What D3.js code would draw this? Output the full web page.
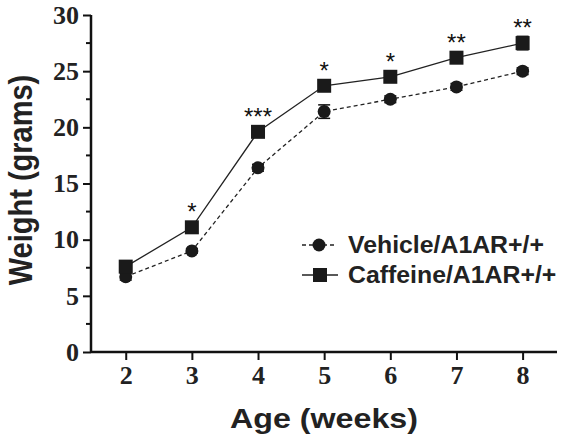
<!DOCTYPE html>
<html><head><meta charset="utf-8">
<script src="https://cdn.jsdelivr.net/npm/d3@7"></script>
<style>body{margin:0;background:#fff}svg{display:block}</style>
</head><body>
<script>
const weeks = [2, 3, 4, 5, 6, 7, 8];
const vehicle = [6.7, 9.0, 16.4, 21.4, 22.5, 23.6, 25.0];
const vehicleErr = [0.3, 0.2, 0.3, 0.6, 0.3, 0.3, 0.3];
const caffeine = [7.6, 11.1, 19.6, 23.7, 24.5, 26.2, 27.5];
const caffeineErr = [0.4, 0.3, 0.3, 0.3, 0.3, 0.3, 0.6];
const stars = ["", "*", "***", "*", "*", "**", "**"];
const yTicks = [0, 5, 10, 15, 20, 25, 30];
const seriesNames = ["Vehicle/A1AR+/+", "Caffeine/A1AR+/+"];

const W = 564, H = 443;
const SANS = "'Liberation Sans', Arial, sans-serif";
const SERIF = "'Liberation Serif', 'Times New Roman', serif";
const svg = d3.select("body").append("svg").attr("width", W).attr("height", H);
const x = d3.scaleLinear().domain([1.475, 8.52]).range([91, 557]);
const y = d3.scaleLinear().domain([0, 30]).range([352, 15]);

// axes
const yAxis = d3.axisLeft(y).tickValues(yTicks).tickFormat(d3.format("d")).tickSize(8).tickPadding(4);
const gy = svg.append("g").attr("transform", "translate(91,0)").call(yAxis);
gy.append("g").selectAll("line").data(d3.range(2.5, 30, 5)).join("line")
  .attr("x1", -5).attr("x2", 0).attr("y1", d => y(d)).attr("y2", d => y(d))
  .attr("stroke", "#111").attr("stroke-width", 2);
const xAxis = d3.axisBottom(x).tickValues(weeks).tickFormat(d3.format("d")).tickSize(8).tickPadding(6);
const gx = svg.append("g").attr("transform", "translate(0,352)").call(xAxis);
[gx, gy].forEach(g => {
  g.select(".domain").attr("stroke", "#111").attr("stroke-width", 2.5);
  g.selectAll(".tick line").attr("stroke", "#111").attr("stroke-width", 2);
  g.selectAll("text").attr("font-family", SERIF)
    .attr("font-weight", "bold").attr("font-size", 26).attr("fill", "#222");
});
gy.select(".domain").attr("d", "M0,15V352");
gx.select(".domain").attr("d", "M91,0H557");

// axis titles
svg.append("text").attr("transform", "translate(324,428) scale(1.15,1)").attr("text-anchor", "middle")
  .attr("font-family", SANS).attr("font-weight", "bold")
  .attr("font-size", 28).attr("fill", "#222").text("Age (weeks)");
svg.append("text").attr("transform", "translate(32,180) rotate(-90) scale(1,1.15)").attr("text-anchor", "middle")
  .attr("font-family", SANS).attr("font-weight", "bold")
  .attr("font-size", 29).attr("fill", "#222").text("Weight (grams)");

const line = d3.line().x((d, i) => x(weeks[i])).y(d => y(d));
svg.append("path").datum(vehicle).attr("d", line).attr("fill", "none")
  .attr("stroke", "#222").attr("stroke-width", 1.3).attr("stroke-dasharray", "4,3");
svg.append("path").datum(caffeine).attr("d", line).attr("fill", "none")
  .attr("stroke", "#222").attr("stroke-width", 1.3);

function errBars(vals, errs) {
  const g = svg.append("g").attr("stroke", "#111").attr("stroke-width", 1.5);
  vals.forEach((v, i) => {
    const cx = x(weeks[i]), hi = y(v + errs[i]), lo = y(v - errs[i]);
    g.append("line").attr("x1", cx).attr("x2", cx).attr("y1", lo).attr("y2", hi);
    g.append("line").attr("x1", cx - 6).attr("x2", cx + 6).attr("y1", hi).attr("y2", hi);
    g.append("line").attr("x1", cx - 6).attr("x2", cx + 6).attr("y1", lo).attr("y2", lo);
  });
}
errBars(vehicle, vehicleErr);
errBars(caffeine, caffeineErr);

svg.append("g").selectAll("circle").data(vehicle).join("circle")
  .attr("cx", (d, i) => x(weeks[i])).attr("cy", d => y(d)).attr("r", 6.5).attr("fill", "#1a1a1a");
svg.append("g").selectAll("rect").data(caffeine).join("rect")
  .attr("x", (d, i) => x(weeks[i]) - 7).attr("y", d => y(d) - 7).attr("width", 14).attr("height", 14)
  .attr("fill", "#1a1a1a");

svg.append("g").selectAll("text").data(caffeine).join("text")
  .attr("x", (d, i) => x(weeks[i])).attr("y", d => y(d) - 7).attr("text-anchor", "middle")
  .attr("font-family", SANS).attr("font-size", 24)
  .attr("fill", "#111").text((d, i) => stars[i]);

// legend
const leg = svg.append("g");
const rows = [245, 275];
leg.append("line").attr("x1", 302).attr("x2", 336).attr("y1", rows[0]).attr("y2", rows[0])
  .attr("stroke", "#222").attr("stroke-width", 1.3).attr("stroke-dasharray", "4,3");
leg.append("circle").attr("cx", 319).attr("cy", rows[0]).attr("r", 6.5).attr("fill", "#1a1a1a");
leg.append("line").attr("x1", 302).attr("x2", 338).attr("y1", rows[1]).attr("y2", rows[1])
  .attr("stroke", "#222").attr("stroke-width", 1.3);
leg.append("rect").attr("x", 313).attr("y", rows[1] - 7).attr("width", 14).attr("height", 14).attr("fill", "#1a1a1a");
leg.selectAll("text").data(seriesNames).join("text")
  .attr("transform", (d, i) => `translate(348,${rows[i] + 8}) scale(1.08,1)`)
  .attr("font-family", SANS).attr("font-weight", "bold")
  .attr("font-size", 23).attr("fill", "#222").text(d => d);
</script>
</body></html>
